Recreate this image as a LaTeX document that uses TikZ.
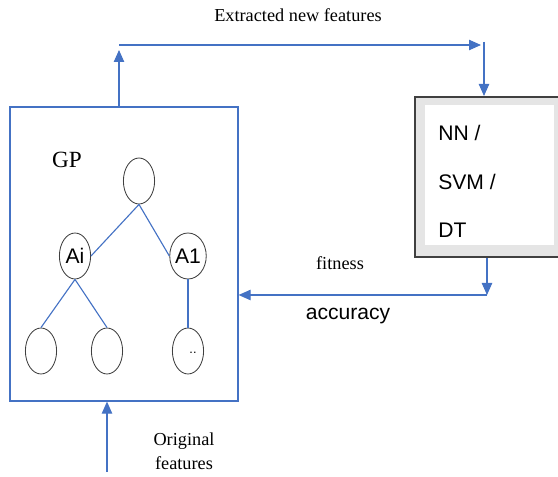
\documentclass[tikz,border=0pt]{standalone}
\usepackage{fontspec}
\setmainfont{Liberation Serif}
\newfontfamily\arialfont{Liberation Sans}
\usepackage{tikz}
\usetikzlibrary{shapes.geometric, arrows.meta, positioning, calc}
\definecolor{cBlue}{RGB}{68,114,196}
\definecolor{cEdge}{RGB}{64,64,64}
\definecolor{cPanel}{RGB}{229,229,229}
\tikzset{
	gpbox/.style   ={rectangle, draw=cBlue, line width=0.8pt, minimum width=5.7cm, minimum height=7.35cm},
	tnode/.style   ={ellipse, draw=cEdge, line width=0.6pt, minimum width=0.78cm, minimum height=1.15cm, inner sep=0pt, font=\arialfont\fontsize{15}{17}\selectfont},
	branch/.style  ={draw=cBlue, line width=0.8pt},
	clsbox/.style  ={rectangle, draw=cEdge, line width=1.4pt, fill=cPanel, minimum width=3.7cm, minimum height=4cm},
	clsin/.style   ={rectangle, fill=white, minimum width=3.22cm, minimum height=3.5cm},
	clstxt/.style  ={anchor=west, inner sep=0pt, font=\arialfont\fontsize{15}{17}\selectfont},
	lbl/.style     ={inner sep=0pt, align=center, font=\fontsize{13}{16}\selectfont},
	sig/.style     ={-{Triangle[length=3mm, width=2.6mm]}, draw=cBlue, fill=cBlue, line width=0.8pt},
}
\begin{document}
\begin{tikzpicture}[x=0.025cm, y=-0.025cm]
	\useasboundingbox (0,0) rectangle (558,477);
	% GP tree
	\node[gpbox] (gp) at (124,254) {};
	\node[lbl, font=\fontsize{16.5}{18}\selectfont] (gplbl) at (67,160) {GP};
	\node[tnode] (root) at (139,181) {};
	\node[tnode] (ai)   at (75,256) {Ai};
	\node[tnode] (aone) at (188,256) {A1};
	\node[tnode] (lfa)  at (41,351) {};
	\node[tnode] (lfb)  at (107,351) {};
	\node[tnode] (lfc)  at (188,351) {};
	\node[inner sep=0pt, font=\arialfont\small] (dots) at (193,353) {..};
	\draw[branch] (root.south) -- (ai.east);
	\draw[branch] (root.south) -- (aone.west);
	\draw[branch] (ai.south) -- (lfa.north);
	\draw[branch] (ai.south) -- (lfb.north);
	\draw[branch] (aone.south) -- (lfc.north);
	% classifier
	\begin{scope}
		\clip (0,0) rectangle (558,477);
		\node[clsbox] (cls) at (489,177) {};
	\end{scope}
	\node[clsin] (clsw) at (489.5,175) {};
	\node[clstxt] (nn)  at (438,133) {NN /};
	\node[clstxt] (svm) at (438,182) {SVM /};
	\node[clstxt] (dt)  at (438,230) {DT};
	% connectors
	\coordinate (upend) at (119,50);
	\coordinate (tleft) at (119,45);
	\coordinate (tright) at (481,45);
	\coordinate (dtop) at (484,42);
	\coordinate (fb) at (487,295);
	\coordinate (orig) at (107,472);
	\draw[sig] (gp.north -| upend) -- (upend);
	\draw[sig] (tleft) -- (tright);
	\draw[sig] (dtop) -- (dtop |- cls.north);
	\draw[sig] (cls.south -| fb) -- (fb);
	\draw[sig] (fb) -- (fb -| gp.east);
	\draw[sig] (orig) -- (orig |- gp.south);
	% labels
	\node[lbl] (ext) at (298,15) {Extracted new features};
	\node[lbl] (fit) at (340,263) {fitness};
	\node[lbl, font=\arialfont\fontsize{15}{17}\selectfont] (acc) at (348,316) {accuracy};
	\node[lbl, font=\fontsize{13}{17}\selectfont] (origlbl) at (184,451) {Original\\features};
\end{tikzpicture}
\end{document}
